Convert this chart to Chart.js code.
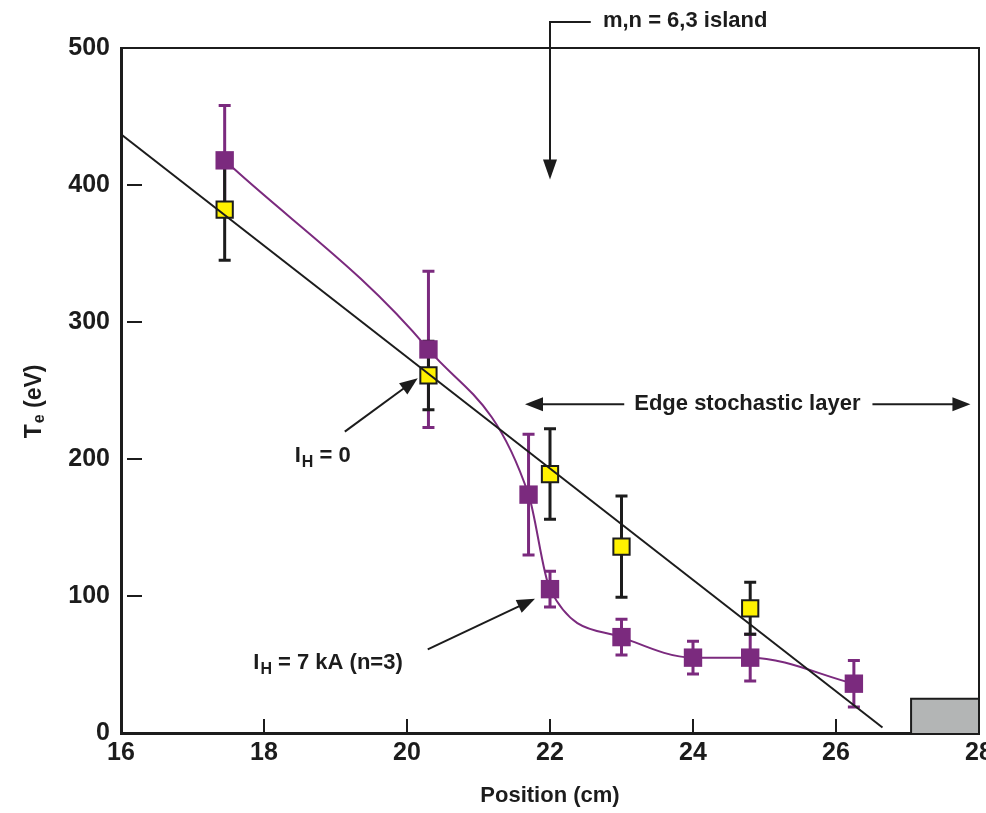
<!DOCTYPE html>
<html>
<head>
<meta charset="utf-8">
<script src="https://cdn.jsdelivr.net/npm/chart.js@4/dist/chart.umd.min.js"></script>
<style>
  html, body { margin: 0; padding: 0; background: #fff; overflow: hidden; }
  #wrap { width: 986px; height: 813px; }
  canvas { display: block; }
</style>
</head>
<body>
<div id="wrap"><canvas id="teChart" width="986" height="813"></canvas></div>
<script>
// Te profile data
const pos7kA = [17.45, 20.3, 21.7, 22.0, 23.0, 24.0, 24.8, 26.25];
const te7kA = [418, 280, 174, 105, 70, 55, 55, 36];
const err7kA = [40, 57, 44, 13, 13, 12, 17, 17];

const pos0 = [17.45, 20.3, 22.0, 23.0, 24.8];
const te0 = [382, 261, 189, 136, 91];
const err0 = [37, 25, 33, 37, 19];

const fitX = [16, 26.65];
const fitY = [437, 4];

const limiterX = [27.05, 27.05, 28, 28];
const limiterY = [0, 25, 25, 0];

const xTicks = [16, 18, 20, 22, 24, 26, 28];
const yTicks = [0, 100, 200, 300, 400, 500];

const PURPLE = "#7b2a7e";
const YELLOW = "#fff200";
const INK = "#1c1c1c";
const FONT = "'Liberation Sans', Arial, sans-serif";

const toPts = (xs, ys) => xs.map((x, i) => ({ x: x, y: ys[i] }));

// error bars: dataset index -> errors
const errorBars = { 1: { err: err7kA, color: PURPLE }, 2: { err: err0, color: INK } };

const errorBarPlugin = {
    id: "errorBars",
    beforeDatasetsDraw(chart) {
        const ctx = chart.ctx;
        const ys = chart.scales.y;
        Object.keys(errorBars).forEach((k) => {
            const meta = chart.getDatasetMeta(+k);
            const info = errorBars[k];
            const data = chart.data.datasets[k].data;
            ctx.save();
            ctx.strokeStyle = info.color;
            ctx.lineWidth = 3;
            meta.data.forEach((pt, i) => {
                const top = ys.getPixelForValue(data[i].y + info.err[i]);
                const bot = ys.getPixelForValue(data[i].y - info.err[i]);
                ctx.beginPath();
                ctx.moveTo(pt.x, top);
                ctx.lineTo(pt.x, bot);
                ctx.moveTo(pt.x - 6, top);
                ctx.lineTo(pt.x + 6, top);
                ctx.moveTo(pt.x - 6, bot);
                ctx.lineTo(pt.x + 6, bot);
                ctx.stroke();
            });
            ctx.restore();
        });
    },
};

function arrowHead(ctx, x0, y0, x1, y1, len, half) {
    const a = Math.atan2(y1 - y0, x1 - x0);
    ctx.beginPath();
    ctx.moveTo(x1, y1);
    ctx.lineTo(x1 - len * Math.cos(a) + half * Math.sin(a), y1 - len * Math.sin(a) - half * Math.cos(a));
    ctx.lineTo(x1 - len * Math.cos(a) - half * Math.sin(a), y1 - len * Math.sin(a) + half * Math.cos(a));
    ctx.closePath();
    ctx.fill();
}

function arrow(ctx, x0, y0, x1, y1) {
    const a = Math.atan2(y1 - y0, x1 - x0);
    ctx.beginPath();
    ctx.moveTo(x0, y0);
    ctx.lineTo(x1 - 12 * Math.cos(a), y1 - 12 * Math.sin(a));
    ctx.stroke();
    arrowHead(ctx, x0, y0, x1, y1, 18, 7);
}

// text with a subscript after the first character
function subText(ctx, x, y, main, sub, rest, size) {
    ctx.font = "bold " + size + "px " + FONT;
    ctx.fillText(main, x, y);
    let w = ctx.measureText(main).width;
    ctx.font = "bold " + Math.round(size * 0.72) + "px " + FONT;
    ctx.fillText(sub, x + w + 1, y + size * 0.25);
    w += ctx.measureText(sub).width + 1;
    ctx.font = "bold " + size + "px " + FONT;
    ctx.fillText(rest, x + w, y);
}

const decorPlugin = {
    id: "decor",
    afterDraw(chart) {
        const ctx = chart.ctx;
        const xs = chart.scales.x;
        const ys = chart.scales.y;
        const area = chart.chartArea;
        const px = (v) => xs.getPixelForValue(v);
        const py = (v) => ys.getPixelForValue(v);
        ctx.save();

        // frame (top/right)
        ctx.strokeStyle = INK;
        ctx.lineWidth = 2;
        ctx.beginPath();
        ctx.moveTo(area.left, area.top);
        ctx.lineTo(area.right, area.top);
        ctx.lineTo(area.right, area.bottom);
        ctx.stroke();

        // inside ticks
        ctx.lineWidth = 2;
        ctx.beginPath();
        xTicks.slice(1, -1).forEach((t) => {
            ctx.moveTo(px(t), area.bottom);
            ctx.lineTo(px(t), area.bottom - 14);
        });
        yTicks.slice(1, -1).forEach((t) => {
            ctx.moveTo(area.left + 6, py(t));
            ctx.lineTo(area.left + 21, py(t));
        });
        ctx.stroke();

        // x tick labels
        ctx.fillStyle = INK;
        ctx.font = "bold 25px " + FONT;
        ctx.textAlign = "center";
        ctx.textBaseline = "middle";
        xTicks.forEach((t) => ctx.fillText(String(t), px(t), area.bottom + 20));

        ctx.strokeStyle = INK;
        ctx.lineWidth = 2;
        ctx.textBaseline = "alphabetic";

        // m,n = 6,3 island
        const ix = px(22.0);
        const iTop = area.top - 26;
        ctx.beginPath();
        ctx.moveTo(px(22.57), iTop);
        ctx.lineTo(ix, iTop);
        ctx.lineTo(ix, py(412));
        ctx.stroke();
        arrowHead(ctx, ix, iTop, ix, py(404), 20, 7);
        ctx.font = "bold 22px " + FONT;
        ctx.textAlign = "left";
        ctx.fillText("m,n = 6,3 island", px(22.74), area.top - 21);

        // Edge stochastic layer
        const ey = py(240);
        const label = "Edge stochastic layer";
        ctx.font = "bold 22px " + FONT;
        const lw = ctx.measureText(label).width;
        const cx = px(24.76);
        ctx.textAlign = "center";
        ctx.textBaseline = "middle";
        ctx.fillText(label, cx, ey);
        arrow(ctx, cx - lw / 2 - 10, ey, px(21.65), ey);
        arrow(ctx, cx + lw / 2 + 12, ey, px(27.88), ey);

        // I_H labels
        ctx.textAlign = "left";
        ctx.textBaseline = "alphabetic";
        subText(ctx, px(18.43), py(198), "I", "H", " = 0", 22);
        arrow(ctx, px(19.13), py(220), px(20.15), py(259));
        subText(ctx, px(17.85), py(47), "I", "H", " = 7 kA (n=3)", 22);
        arrow(ctx, px(20.29), py(61), px(21.79), py(98));

        // y title
        ctx.translate(35, py(242));
        ctx.rotate(-Math.PI / 2);
        ctx.textAlign = "left";
        ctx.textBaseline = "middle";
        ctx.font = "bold 23px " + FONT;
        const tW = ctx.measureText("T").width;
        ctx.font = "bold 16px " + FONT;
        const eW = ctx.measureText("e").width;
        ctx.font = "bold 23px " + FONT;
        const rW = ctx.measureText(" (eV)").width;
        const start = -(tW + eW + rW + 1) / 2;
        ctx.fillText("T", start, 0);
        ctx.font = "bold 16px " + FONT;
        ctx.fillText("e", start + tW + 1, 5);
        ctx.font = "bold 23px " + FONT;
        ctx.fillText(" (eV)", start + tW + eW + 1, 0);

        ctx.restore();
    },
};

const ctx = document.getElementById("teChart").getContext("2d");

new Chart(ctx, {
    type: "scatter",
    data: {
        datasets: [
            {
                label: "fit",
                data: toPts(fitX, fitY),
                showLine: true,
                borderColor: INK,
                borderWidth: 2,
                pointRadius: 0,
            },
            {
                label: "IH = 7 kA (n=3)",
                data: toPts(pos7kA, te7kA),
                showLine: true,
                cubicInterpolationMode: "monotone",
                borderColor: PURPLE,
                borderWidth: 2,
                pointStyle: "rect",
                pointRadius: 13,
                pointBackgroundColor: PURPLE,
                pointBorderColor: PURPLE,
                pointBorderWidth: 0,
            },
            {
                label: "IH = 0",
                data: toPts(pos0, te0),
                showLine: false,
                pointStyle: "rect",
                pointRadius: 11.5,
                pointBackgroundColor: YELLOW,
                pointBorderColor: INK,
                pointBorderWidth: 2,
            },
            {
                label: "limiter",
                data: toPts(limiterX, limiterY),
                showLine: true,
                fill: true,
                backgroundColor: "#b3b5b5",
                borderColor: INK,
                borderWidth: 2,
                pointRadius: 0,
                tension: 0,
            },
        ],
    },
    options: {
        responsive: false,
        animation: false,
        devicePixelRatio: 1,
        layout: { autoPadding: false, padding: { top: 48, right: 7, left: 0, bottom: 0 } },
        plugins: {
            legend: { display: false },
            tooltip: { enabled: false },
        },
        scales: {
            x: {
                type: "linear",
                min: 16,
                max: 28,
                afterFit: (s) => { s.height = 80; },
                afterBuildTicks: (s) => { s.ticks = xTicks.map((v) => ({ value: v })); },
                grid: { display: false, drawTicks: false },
                border: { display: true, color: INK, width: 3 },
                ticks: { display: false },
                title: {
                    display: true,
                    text: "Position (cm)",
                    color: INK,
                    padding: { top: 0, bottom: 4 },
                    font: { family: FONT, size: 22, weight: "bold" },
                },
            },
            y: {
                type: "linear",
                min: 0,
                max: 500,
                afterFit: (s) => { s.width = 121; },
                afterBuildTicks: (s) => { s.ticks = yTicks.map((v) => ({ value: v })); },
                grid: { display: false, drawTicks: false },
                border: { display: true, color: INK, width: 3 },
                ticks: {
                    padding: 11,
                    color: INK,
                    font: { family: FONT, size: 25, weight: "bold" },
                },
            },
        },
    },
    plugins: [errorBarPlugin, decorPlugin],
});
</script>
</body>
</html>
